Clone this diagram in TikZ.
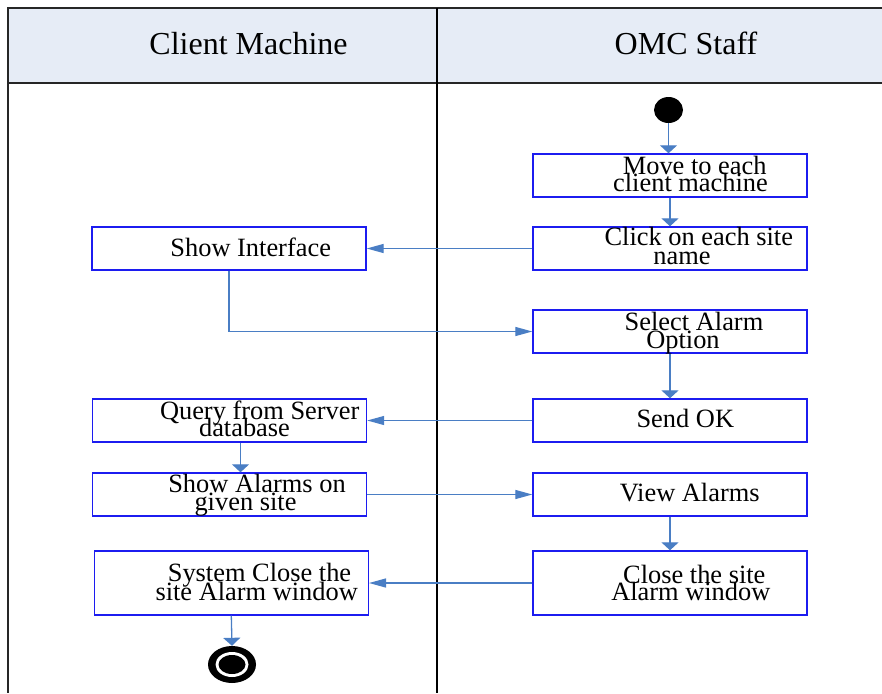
\documentclass[tikz,border=0pt]{standalone}
\usepackage{fontspec}
\setmainfont{Liberation Serif}
\usetikzlibrary{arrows.meta,calc,shapes.geometric}
\definecolor{lanefill}{RGB}{230,236,246}
\definecolor{boxblue}{RGB}{28,28,240}
\definecolor{flowblue}{RGB}{74,126,196}
\begin{document}
\begin{tikzpicture}[x=1pt,y=-1pt,
  box/.style={draw=boxblue, line width=1.4pt, rectangle, minimum width=274pt, minimum height=43pt, inner sep=0pt},
  tallbox/.style={box, minimum height=64pt},
  txt/.style={anchor=base, inner sep=0pt, font=\fontsize{26.4}{18}\selectfont},
  head/.style={anchor=base, inner sep=0pt, font=\fontsize{32}{36}\selectfont},
  flow/.style={draw=flowblue, line width=1.3pt},
  harr/.style={flow, -{Triangle[length=17pt,width=9pt]}},
  varr/.style={flow, -{Triangle[length=8pt,width=17pt]}}]

\useasboundingbox (0,0) rectangle (882,693);

% swimlane frame and header band
\fill[lanefill] (8,8) rectangle (882,83);
\draw[line width=1.5pt, black!85] (882,8) -- (8,8) -- (8,693);
\draw[line width=1.5pt, black!85] (8,83) -- (882,83);
\draw[line width=1.2pt] (437,8) -- (437,693);

\node[head] (hclient) at (248.5,55) {Client Machine};
\node[head] (homc) at (686,55) {OMC Staff};

% initial and final states
\node[ellipse, fill=black, minimum width=29pt, minimum height=26pt, inner sep=0pt] (start) at (668.5,110) {};
\node[ellipse, fill=black, minimum width=48pt, minimum height=37pt, inner sep=0pt] (final) at (232,664.5) {};
\fill[white] (final) ellipse [x radius=16.5, y radius=12.5];
\fill[black] (final) ellipse [x radius=13.5, y radius=9.5];

% activity boxes
\node[box] (move) at (670,175.5) {};
\node[box] (click) at (670,248.5) {};
\node[box] (show) at (229,248.5) {};
\node[box] (select) at (670,331.5) {};
\node[box] (send) at (670,420.5) {};
\node[box] (query) at (229.5,420.5) {};
\node[box] (alarms) at (229.5,494.5) {};
\node[box] (view) at (670,494.5) {};
\node[tallbox] (close) at (670,583) {};
\node[tallbox] (sysclose) at (231.3,583) {};

% box captions
\node[txt] (move1) at (694.7,174.3) {Move to each};
\node[txt] (move2) at (690.5,191.7) {client machine};
\node[txt] (click1) at (698.8,245.7) {Click on each site};
\node[txt] (click2) at (682,264) {name};
\node[txt] (show1) at (250.7,256) {Show Interface};
\node[txt] (select1) at (694,330) {Select Alarm};
\node[txt] (select2) at (683,348.3) {Option};
\node[txt] (send1) at (685.3,427.7) {Send OK};
\node[txt] (query1) at (259.7,419) {Query from Server};
\node[txt] (query2) at (244.5,436.7) {database};
\node[txt] (alarms1) at (257,492.7) {Show Alarms on};
\node[txt] (alarms2) at (245.5,510) {given site};
\node[txt] (view1) at (689.7,501.7) {View Alarms};
\node[txt] (close1) at (694.3,583.3) {Close the site};
\node[txt] (close2) at (690.8,600) {Alarm window};
\node[txt] (sys1) at (259.5,581.7) {System Close the};
\node[txt] (sys2) at (256.7,600) {site Alarm window};

% control flow
\draw[varr] (start.south) -- (start.south |- move.north);
\draw[varr] (move) -- (click);
\draw[harr] (click) -- (show);
\draw[harr] (show.south) |- (select.west);
\draw[varr] (select) -- (send);
\draw[harr] (send) -- (query);
\draw[varr] ([xshift=11pt]query.south) -- ([xshift=11pt]alarms.north);
\draw[harr] (alarms) -- (view);
\draw[varr] (view) -- (close);
\draw[harr] (close) -- (sysclose);
\draw[varr] (sysclose.south) -- (final.north);
\end{tikzpicture}
\end{document}
